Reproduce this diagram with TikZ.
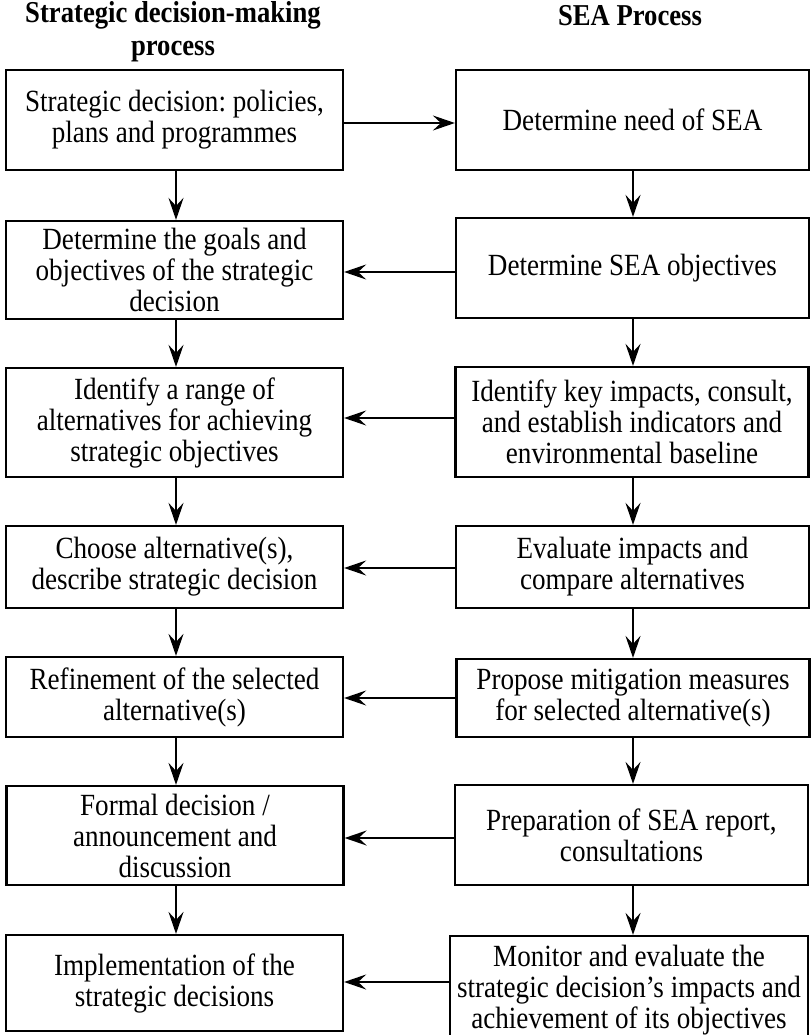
\documentclass[tikz,border=0pt]{standalone}
\usepackage{fontspec}
\setmainfont{Liberation Serif}[FakeStretch=0.88]
\usetikzlibrary{arrows.meta}
\begin{document}
\frenchspacing
\begin{tikzpicture}[x=1pt,y=-1pt,
  box/.style={draw, line width=2.2pt, inner sep=0pt, align=center,
    font=\fontsize{30.8}{31}\selectfont},
  lbox/.style={box, minimum width=337pt},
  rbox/.style={box, minimum width=353pt},
  title/.style={align=center, font=\fontsize{30.3}{33}\selectfont\bfseries},
  arr/.style={line width=2.2pt, -{Stealth[length=22pt,width=15pt,inset=8pt]}}]
\useasboundingbox (0,0) rectangle (811,1035);
\clip (0,0) rectangle (811,1035);
\node[title] (T1) at (173,32) {Strategic decision-making\\process};
\node[title] (T2) at (630,16) {SEA Process};
% left column
\node[lbox, minimum height=100pt] (L1) at (174.5,120) {Strategic decision: policies,\\plans and programmes};
\node[lbox, minimum height=98pt] (L2) at (174.5,270) {Determine the goals and\\objectives of the strategic\\decision};
\node[lbox, minimum height=109pt] (L3) at (174.5,422.5) {Identify a range of\\alternatives for achieving\\strategic objectives};
\node[lbox, minimum height=82pt] (L4) at (174.5,567) {Choose alternative(s),\\describe strategic decision};
\node[lbox, minimum height=80pt] (L5) at (174.5,697) {Refinement of the selected\\alternative(s)};
\node[lbox, minimum height=99pt] (L6) at (175,835.5) {Formal decision /\\announcement and\\discussion};
\node[lbox, minimum height=96pt] (L7) at (174.5,983) {Implementation of the\\strategic decisions};
% right column
\node[rbox, minimum height=100pt] (R1) at (632.5,120) {Determine need of SEA};
\node[rbox, minimum height=100pt] (R2) at (632.5,268) {Determine SEA objectives};
\node[rbox, minimum height=110pt] (R3) at (632,422) {Identify key impacts, consult,\\and establish indicators and\\environmental baseline};
\node[rbox, minimum height=82pt] (R4) at (632.5,567) {Evaluate impacts and\\compare alternatives};
\node[rbox, minimum height=78pt] (R5) at (633,698) {Propose mitigation measures\\for selected alternative(s)};
\node[rbox, minimum height=100pt] (R6) at (631.5,835) {Preparation of SEA report,\\consultations};
\node[rbox, minimum width=358pt, minimum height=108pt] (R7) at (629,990) {Monitor and evaluate the\\strategic decision's impacts and\\achievement of its objectives};
% arrow levels
\coordinate (h1) at (0,123);
\coordinate (h2) at (0,272);
\coordinate (h3) at (0,418);
\coordinate (h4) at (0,568);
\coordinate (h5) at (0,698);
\coordinate (h6) at (0,838);
\coordinate (h7) at (0,982);
\coordinate (vl) at (176,0);
\coordinate (vr) at (633,0);
% arrows
\draw[arr] (L1.east |- h1) -- (R1.west |- h1);
\foreach \i/\j in {1/2,2/3,3/4,4/5,5/6,6/7}{
  \draw[arr] (vl |- L\i.south) -- (vl |- L\j.north);
  \draw[arr] (vr |- R\i.south) -- (vr |- R\j.north);
}
\foreach \i in {2,...,7}{
  \draw[arr] (R\i.west |- h\i) -- (L\i.east |- h\i);
}
\end{tikzpicture}
\end{document}
